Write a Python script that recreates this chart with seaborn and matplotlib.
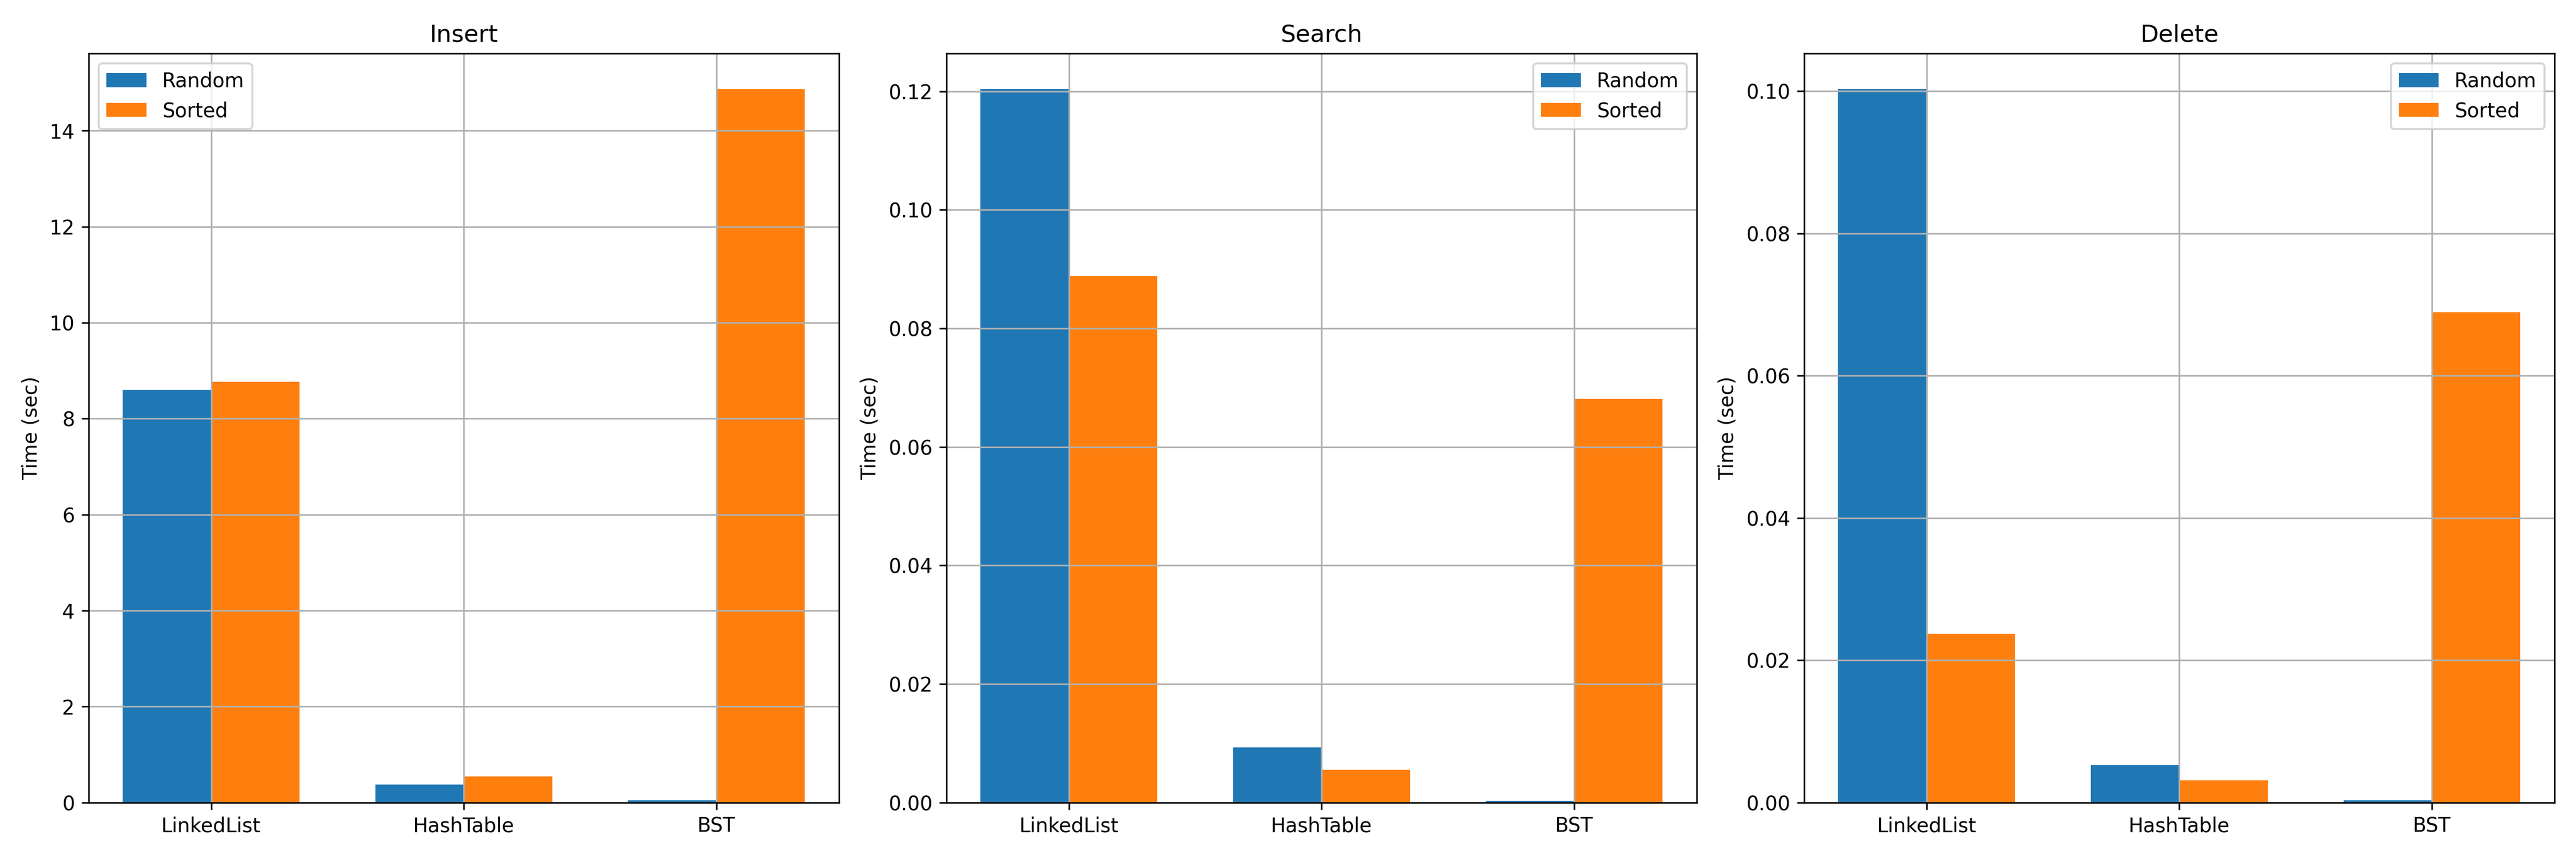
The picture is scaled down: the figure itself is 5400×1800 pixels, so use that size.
import pandas as pd
import matplotlib
matplotlib.use('Agg')
import matplotlib.pyplot as plt
import seaborn as sns

structures = ['LinkedList', 'HashTable', 'BST']
orders = ['Random', 'Sorted']

insert_random = [8.60, 0.376, 0.045]
insert_sorted = [8.77, 0.547, 14.87]
search_random = [0.1204, 0.00932, 0.0003]
search_sorted = [0.0889, 0.00554, 0.0681]
delete_random = [0.1003, 0.0053, 0.0003]
delete_sorted = [0.0237, 0.00315, 0.0689]

operations = {
    'Insert': (insert_random, insert_sorted),
    'Search': (search_random, search_sorted),
    'Delete': (delete_random, delete_sorted),
}

colors = ['#1f77b4', '#ff7f0e']
width = 0.7

fig, axes = plt.subplots(1, 3, figsize=(18, 6))

for ax, (op, (rnd, srt)) in zip(axes, operations.items()):
    df = pd.DataFrame({
        'Structure': structures * 2,
        'Order': ['Random'] * 3 + ['Sorted'] * 3,
        'Time': rnd + srt,
    })
    sns.barplot(data=df, x='Structure', y='Time', hue='Order', hue_order=orders,
                palette=colors, saturation=1, errorbar=None, width=width, ax=ax)
    leg = ax.get_legend()
    handles = leg.legend_handles
    labels = [t.get_text() for t in leg.get_texts()]
    ax.legend(handles, labels, loc='best')
    # plain matplotlib-style 5% x margins around the bars
    span = (len(structures) - 1) + width
    ax.set_xlim(-width / 2 - 0.05 * span, len(structures) - 1 + width / 2 + 0.05 * span)
    ax.set_title(op)
    ax.set_xlabel('')
    ax.set_ylabel('Time (sec)')
    ax.grid(True)

plt.tight_layout()
plt.savefig('out.png', dpi=300)
